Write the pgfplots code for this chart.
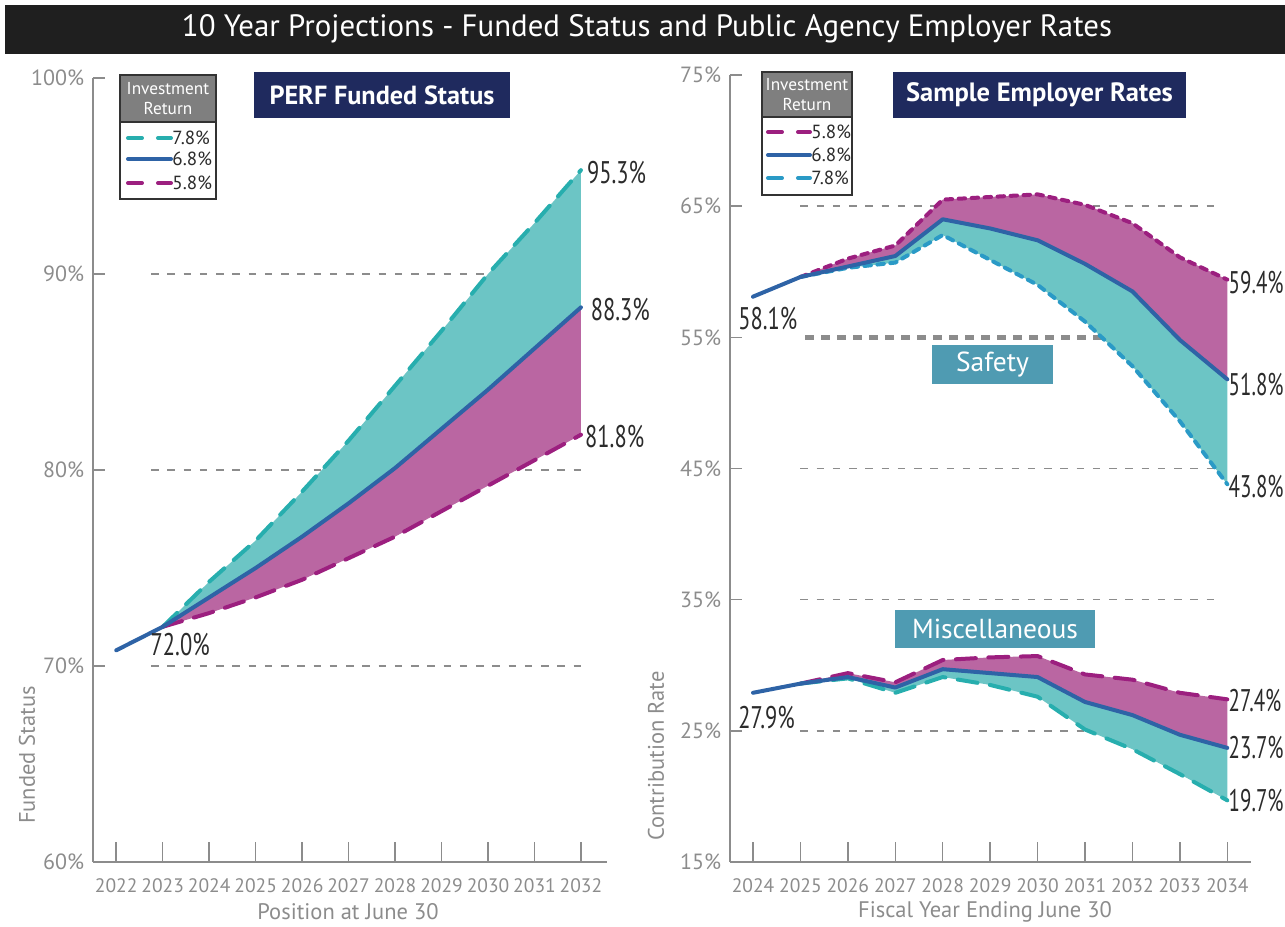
\documentclass[border=0pt]{standalone}
\usepackage{pgfplots}
\pgfplotsset{compat=1.18}
\usepackage{fontspec}
\setmainfont{PT Sans}

\definecolor{tealfill}{HTML}{6CC5C5}
\definecolor{magfill}{HTML}{BA66A2}
\definecolor{tealline}{HTML}{27AEAE}
\definecolor{skyline}{HTML}{2A9AC6}
\definecolor{magline}{HTML}{9C1F7F}
\definecolor{blueline}{HTML}{2E63A6}
\definecolor{navy}{HTML}{1F2A5E}
\definecolor{tagteal}{HTML}{4F9BB2}
\definecolor{axgray}{HTML}{8C8C8C}
\definecolor{hdrgray}{HTML}{7F7F7F}
\definecolor{labdark}{HTML}{2B2B2B}

\newcommand{\vallab}[1]{\scalebox{0.72}[1]{\fontsize{12.5}{13}\selectfont #1}}
\newcommand{\vallabr}[1]{\scalebox{0.67}[1]{\fontsize{12.5}{13}\selectfont #1}}

\pgfplotsset{
  proj/.style={
    scale only axis, clip=false,
    axis lines=left,
    axis line style={axgray, line width=0.8pt, -},
    tick align=inside,
    tick style={axgray, line width=0.6pt},
    xtick style={/pgfplots/major tick length=8pt},
    ytick style={/pgfplots/major tick length=4.8pt},
    /pgf/number format/assume math mode=true,
    xticklabel={\pgfmathprintnumber[1000 sep=,precision=0]{\tick}},
    yticklabel={\pgfmathprintnumber{\tick}\%},
    xticklabel style={font=\fontsize{7.8}{8}\selectfont, text=axgray, yshift=-3pt},
    yticklabel style={font=\fontsize{8.8}{9}\selectfont, text=axgray},
  },
}
\tikzset{
  grid line/.style={axgray, line width=0.6pt, dash pattern=on 3pt off 3.5pt},
  mid/.style={blueline, line width=1.6pt, line cap=round, line join=round},
  longdash/.style={line width=1.6pt, line cap=round, dash pattern=on 8pt off 5pt},
  shortdash/.style={line width=1.6pt, line cap=round, dash pattern=on 2.6pt off 2.6pt},
}

\begin{document}
\begin{tikzpicture}
\path[use as bounding box] (0pt,0pt) rectangle (514pt,-370.8pt);

% ---------- left: funded status ----------
\begin{axis}[proj,
  at={(37.2pt,-344.8pt)}, anchor=south west,
  width=205.6pt, height=313.6pt,
  xmin=2021.5, xmax=2032.56, ymin=60, ymax=100,
  xtick={2022,2023,...,2032}, ytick={60,70,80,90,100},
]
\draw[grid line] (axis cs:2022.75,90) -- (axis cs:2032,90);
\draw[grid line] (axis cs:2022.75,80) -- (axis cs:2032,80);
\draw[grid line] (axis cs:2022.75,70) -- (axis cs:2032,70);

% band 7.8% .. 6.8%
\addplot[fill=tealfill, draw=none] coordinates {
  (2023,72.0) (2024,74.3) (2025,76.4) (2026,78.9) (2027,81.5)
  (2028,84.3) (2029,87.1) (2030,90.0) (2031,92.6) (2032,95.3)
  (2032,88.3) (2031,86.2) (2030,84.1) (2029,82.1) (2028,80.1)
  (2027,78.3) (2026,76.6) (2025,75.0) (2024,73.5) (2023,72.0)};
% band 6.8% .. 5.8%
\addplot[fill=magfill, draw=none] coordinates {
  (2023,72.0) (2024,73.5) (2025,75.0) (2026,76.6) (2027,78.3)
  (2028,80.1) (2029,82.1) (2030,84.1) (2031,86.2) (2032,88.3)
  (2032,81.8) (2031,80.5) (2030,79.2) (2029,77.9) (2028,76.6)
  (2027,75.5) (2026,74.4) (2025,73.5) (2024,72.7) (2023,72.0)};

\addplot[longdash, tealline] coordinates {
  (2023,72.0) (2024,74.3) (2025,76.4) (2026,78.9) (2027,81.5)
  (2028,84.3) (2029,87.1) (2030,90.0) (2031,92.6) (2032,95.3)};
\addplot[longdash, magline] coordinates {
  (2023,72.0) (2024,72.7) (2025,73.5) (2026,74.4) (2027,75.5)
  (2028,76.6) (2029,77.9) (2030,79.2) (2031,80.5) (2032,81.8)};
\addplot[mid] coordinates {
  (2022,70.8) (2023,72.0) (2024,73.5) (2025,75.0) (2026,76.6) (2027,78.3)
  (2028,80.1) (2029,82.1) (2030,84.1) (2031,86.2) (2032,88.3)};

\node[anchor=west, text=labdark, inner sep=0pt] at (axis cs:2022.73,71.1) {\vallab{72.0\%}};
\node[anchor=west, text=labdark, inner sep=0pt] at (axis cs:2032.12,95.2) {\vallab{95.3\%}};
\node[anchor=west, text=labdark, inner sep=0pt] at (axis cs:2032.2,88.2) {\vallab{88.3\%}};
\node[anchor=west, text=labdark, inner sep=0pt] at (axis cs:2032.08,81.7) {\vallab{81.8\%}};
\end{axis}

% ---------- right: employer rates ----------
\begin{axis}[proj,
  at={(292pt,-344.8pt)}, anchor=south west,
  width=208.4pt, height=314.8pt,
  xmin=2023.515, xmax=2034.5, ymin=15, ymax=75,
  xtick={2024,2025,...,2034}, ytick={15,25,...,75},
]
\draw[grid line] (axis cs:2025,65) -- (axis cs:2033.75,65);
\draw[grid line] (axis cs:2025,45) -- (axis cs:2033.75,45);
\draw[grid line] (axis cs:2025,35) -- (axis cs:2033.75,35);
\draw[grid line] (axis cs:2025,25) -- (axis cs:2033.75,25);
\draw[axgray, line width=2pt, dash pattern=on 3.4pt off 3pt] (axis cs:2025.1,55) -- (axis cs:2033.96,55);

% safety bands
\addplot[fill=magfill, draw=none] coordinates {
  (2025,59.6) (2026,61.0) (2027,62.0) (2028,65.5) (2029,65.7)
  (2030,65.9) (2031,65.1) (2032,63.7) (2033,61.1) (2034,59.4)
  (2034,51.8) (2033,54.8) (2032,58.5) (2031,60.6) (2030,62.4)
  (2029,63.3) (2028,64.0) (2027,61.2) (2026,60.4) (2025,59.6)};
\addplot[fill=tealfill, draw=none] coordinates {
  (2025,59.6) (2026,60.4) (2027,61.2) (2028,64.0) (2029,63.3)
  (2030,62.4) (2031,60.6) (2032,58.5) (2033,54.8) (2034,51.8)
  (2034,43.8) (2033,48.6) (2032,52.8) (2031,56.2) (2030,59.0)
  (2029,60.9) (2028,62.8) (2027,60.7) (2026,60.3) (2025,59.6)};

% miscellaneous bands
\addplot[fill=magfill, draw=none] coordinates {
  (2025,28.6) (2026,29.4) (2027,28.7) (2028,30.4) (2029,30.6)
  (2030,30.7) (2031,29.3) (2032,28.9) (2033,27.9) (2034,27.4)
  (2034,23.7) (2033,24.7) (2032,26.2) (2031,27.2) (2030,29.1)
  (2029,29.4) (2028,29.7) (2027,28.3) (2026,29.1) (2025,28.6)};
\addplot[fill=tealfill, draw=none] coordinates {
  (2025,28.6) (2026,29.1) (2027,28.3) (2028,29.7) (2029,29.4)
  (2030,29.1) (2031,27.2) (2032,26.2) (2033,24.7) (2034,23.7)
  (2034,19.7) (2033,21.7) (2032,23.6) (2031,25.1) (2030,27.6)
  (2029,28.5) (2028,29.1) (2027,27.9) (2026,29.0) (2025,28.6)};

\addplot[shortdash, magline] coordinates {
  (2025,59.6) (2026,61.0) (2027,62.0) (2028,65.5) (2029,65.7)
  (2030,65.9) (2031,65.1) (2032,63.7) (2033,61.1) (2034,59.4)};
\addplot[shortdash, skyline] coordinates {
  (2025,59.6) (2026,60.3) (2027,60.7) (2028,62.8) (2029,60.9)
  (2030,59.0) (2031,56.2) (2032,52.8) (2033,48.6) (2034,43.8)};
\addplot[mid] coordinates {
  (2024,58.1) (2025,59.6) (2026,60.4) (2027,61.2) (2028,64.0) (2029,63.3)
  (2030,62.4) (2031,60.6) (2032,58.5) (2033,54.8) (2034,51.8)};

\addplot[longdash, magline] coordinates {
  (2025,28.6) (2026,29.4) (2027,28.7) (2028,30.4) (2029,30.6)
  (2030,30.7) (2031,29.3) (2032,28.9) (2033,27.9) (2034,27.4)};
\addplot[longdash, tealline] coordinates {
  (2025,28.6) (2026,29.0) (2027,27.9) (2028,29.1) (2029,28.5)
  (2030,27.6) (2031,25.1) (2032,23.6) (2033,21.7) (2034,19.7)};
\addplot[mid] coordinates {
  (2024,27.9) (2025,28.6) (2026,29.1) (2027,28.3) (2028,29.7) (2029,29.4)
  (2030,29.1) (2031,27.2) (2032,26.2) (2033,24.7) (2034,23.7)};

\node[anchor=west, text=labdark, inner sep=0pt] at (axis cs:2023.68,56.4) {\vallab{58.1\%}};
\node[anchor=west, text=labdark, inner sep=0pt] at (axis cs:2023.68,26.0) {\vallab{27.9\%}};
\node[anchor=west, text=labdark, inner sep=0pt] at (axis cs:2034.02,59.2) {\vallabr{59.4\%}};
\node[anchor=west, text=labdark, inner sep=0pt] at (axis cs:2034.02,51.4) {\vallabr{51.8\%}};
\node[anchor=west, text=labdark, inner sep=0pt] at (axis cs:2034.02,43.6) {\vallabr{43.8\%}};
\node[anchor=west, text=labdark, inner sep=0pt] at (axis cs:2034.02,27.3) {\vallabr{27.4\%}};
\node[anchor=west, text=labdark, inner sep=0pt] at (axis cs:2034.02,23.7) {\vallabr{23.7\%}};
\node[anchor=west, text=labdark, inner sep=0pt] at (axis cs:2034.02,19.7) {\vallabr{19.7\%}};
\end{axis}

% ---------- annotations in pixel units ----------
\begin{scope}[x=0.4pt, y=-0.4pt]
\fill[black!88] (5,5) rectangle (1285,54);
\node[text=white, font=\fontsize{12.35}{13}\selectfont] at (647,29)
  {10 Year Projections - Funded Status and Public Agency Employer Rates};

\node[fill=navy, text=white, minimum width=102pt, minimum height=18.4pt, inner sep=0pt,
  font=\fontsize{10.5}{11}\selectfont\bfseries] at (382,95) {PERF Funded Status};
\node[fill=navy, text=white, minimum width=117.2pt, minimum height=18.4pt, inner sep=0pt,
  font=\fontsize{10.6}{11}\selectfont\bfseries] at (1039.5,95) {Sample Employer Rates};
\node[fill=tagteal, text=white, minimum width=48.4pt, minimum height=15.6pt, inner sep=0pt,
  font=\fontsize{11}{12}\selectfont] at (992.5,364.5) {Safety};
\node[fill=tagteal, text=white, minimum width=80pt, minimum height=15.2pt, inner sep=0pt,
  font=\fontsize{11}{12}\selectfont] at (995,629) {Miscellaneous};

% axis titles
\node[rotate=90, text=axgray, font=\fontsize{9}{10}\selectfont] at (27,755) {Funded Status};
\node[rotate=90, text=axgray, font=\fontsize{9}{10}\selectfont] at (656,756) {Contribution Rate};
\node[text=axgray, font=\fontsize{9}{10}\selectfont] at (348,912) {Position at June 30};
\node[text=axgray, font=\fontsize{9}{10}\selectfont] at (985,912) {Fiscal Year Ending June 30};

% legend, left
\fill[white] (120,75) rectangle (216,199);
\fill[hdrgray] (120,75) rectangle (216,122);
\draw[black!80, line width=0.5pt] (120,75) rectangle (216,199);
\draw[black!80, line width=0.5pt] (120,122) -- (216,122);
\node[text=white, align=center, font=\fontsize{6.9}{7.8}\selectfont] at (168,98.5) {Investment\\Return};
\draw[tealline, line width=1.6pt, line cap=round, dash pattern=on 5.6pt off 6.4pt] (128,138) -- (171,138);
\draw[blueline, line width=1.6pt, line cap=round] (128,159) -- (171,159);
\draw[magline, line width=1.6pt, line cap=round, dash pattern=on 5.6pt off 6.4pt] (128,183) -- (171,183);
\node[anchor=west, inner sep=0pt, text=labdark, font=\fontsize{7.6}{8}\selectfont] at (172,138) {7.8\%};
\node[anchor=west, inner sep=0pt, text=labdark, font=\fontsize{7.6}{8}\selectfont] at (172,159) {6.8\%};
\node[anchor=west, inner sep=0pt, text=labdark, font=\fontsize{7.6}{8}\selectfont] at (172,183) {5.8\%};

% legend, right
\fill[white] (762,72) rectangle (852,195);
\fill[hdrgray] (762,72) rectangle (852,117);
\draw[black!80, line width=0.5pt] (762,72) rectangle (852,195);
\draw[black!80, line width=0.5pt] (762,117) -- (852,117);
\node[text=white, align=center, font=\fontsize{6.9}{7.8}\selectfont] at (807,94.5) {Investment\\Return};
\draw[magline, line width=1.6pt, line cap=round, dash pattern=on 5.6pt off 6.4pt] (768,132) -- (810,132);
\draw[blueline, line width=1.6pt, line cap=round] (768,155) -- (810,155);
\draw[skyline, line width=1.6pt, line cap=round, dash pattern=on 5.6pt off 6.4pt] (768,178) -- (810,178);
\node[anchor=west, inner sep=0pt, text=labdark, font=\fontsize{7.6}{8}\selectfont] at (811,132) {5.8\%};
\node[anchor=west, inner sep=0pt, text=labdark, font=\fontsize{7.6}{8}\selectfont] at (811,155) {6.8\%};
\node[anchor=west, inner sep=0pt, text=labdark, font=\fontsize{7.6}{8}\selectfont] at (811,178) {7.8\%};
\end{scope}
\end{tikzpicture}
\end{document}
